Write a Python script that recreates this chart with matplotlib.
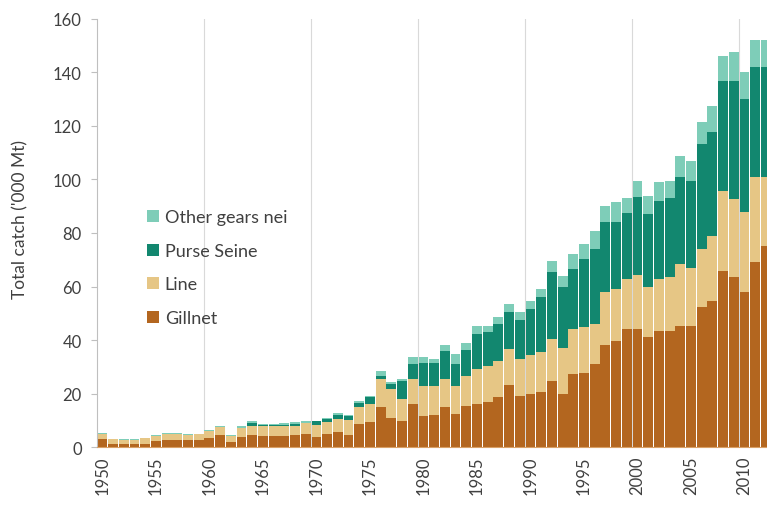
import numpy as np
import matplotlib
matplotlib.use("Agg")
from matplotlib import pyplot as plt

plt.rcParams['font.family'] = ['Lato', 'DejaVu Sans']

years = list(range(1950, 2013))

gillnet = [3.0, 1.1, 1.0, 1.0, 1.2, 2.4, 2.8, 2.8, 2.5, 2.5,
           3.5, 4.5, 2.0, 3.6, 4.5, 4.0, 4.0, 4.2, 4.4, 4.8,
           3.8, 4.8, 5.5, 4.6, 8.6, 9.2, 14.8, 11.0, 9.8, 16.0,
           11.7, 12.0, 14.8, 12.5, 15.5, 16.1, 16.7, 18.6, 23.2, 19.2,
           19.8, 20.4, 24.8, 19.8, 27.3, 27.6, 31.0, 38.0, 39.7, 44.3,
           44.3, 41.0, 43.5, 43.5, 45.3, 45.3, 52.2, 54.7, 65.9, 63.4,
           57.8, 69.0, 75.0]

line = [2.0, 1.8, 1.8, 1.8, 2.0, 1.8, 2.0, 2.2, 2.0, 2.2,
        2.5, 3.0, 2.2, 3.5, 3.4, 3.8, 3.8, 3.8, 3.6, 4.0,
        4.6, 4.6, 5.0, 5.5, 6.5, 6.8, 10.6, 10.7, 8.2, 9.4,
        11.2, 10.9, 10.6, 10.4, 11.2, 13.1, 13.7, 13.6, 13.4, 13.7,
        14.6, 15.0, 15.6, 17.1, 16.9, 17.4, 15.0, 19.8, 19.3, 18.5,
        20.0, 19.0, 19.3, 19.9, 23.1, 21.7, 21.8, 24.0, 29.9, 29.3,
        29.9, 31.8, 26.0]

purse_seine = [0, 0, 0, 0, 0, 0, 0, 0, 0, 0,
               0, 0, 0, 0, 1.2, 0.4, 0.3, 0.3, 0.5, 0.2,
               1.2, 1.0, 1.5, 1.4, 1.5, 2.8, 1.3, 2.0, 6.5, 5.6,
               8.6, 8.5, 10.6, 8.1, 9.7, 13.0, 12.6, 13.8, 13.7, 14.4,
               17.2, 20.5, 24.9, 22.8, 22.4, 25.4, 28.0, 26.2, 25.2, 24.7,
               29.3, 27.1, 29.2, 29.6, 32.4, 32.6, 39.3, 38.9, 41.2, 44.3,
               42.3, 41.1, 41.0]

other = [0.3, 0.2, 0.2, 0.2, 0.2, 0.3, 0.3, 0.3, 0.3, 0.3,
         0.4, 0.5, 0.2, 0.6, 0.5, 0.5, 0.4, 0.8, 1.0, 0.8,
         0.3, 0.6, 0.8, 0.5, 0.5, 0.4, 1.8, 0.5, 0.9, 2.5,
         2.0, 1.5, 2.0, 3.8, 2.5, 3.2, 2.4, 2.5, 3.2, 3.0,
         3.1, 3.1, 4.4, 4.3, 5.6, 5.5, 6.9, 6.2, 7.3, 5.5,
         6.0, 6.9, 7.0, 6.6, 7.9, 7.4, 8.1, 10.0, 9.3, 10.5,
         10.0, 10.1, 10.0]

series = [("Gillnet", gillnet, "#B3661F"),
          ("Line", line, "#E6C685"),
          ("Purse Seine", purse_seine, "#12876F"),
          ("Other gears nei", other, "#7ECDB8")]

fig = plt.figure(figsize=(7.67, 5.06), dpi=100)
ax = fig.add_axes([0.1265, 0.1146, 0.8735, 0.8459])

x = np.array(years)
bottom = np.zeros(len(years))
handles = []
for name, vals, color in series:
    h = ax.bar(x, vals, width=0.92, bottom=bottom, color=color, label=name,
               linewidth=0, zorder=2)
    handles.append(h)
    bottom += np.array(vals)

# category gridlines every 10 years
for gx in range(1960, 2020, 10):
    ax.axvline(gx - 0.5, color="#D9D9D9", linewidth=0.8, zorder=1)

ax.set_xlim(1949.5, 2012.1)
ax.set_ylim(0, 160)
ax.set_yticks(range(0, 161, 20))
ax.set_xticks(range(1950, 2011, 5))
ax.set_xticklabels([str(y) for y in range(1950, 2011, 5)], rotation=90)
ax.tick_params(axis='x', length=0, pad=6, labelsize=12, labelcolor="#404040")
ax.tick_params(axis='y', length=4, color="#BFBFBF", pad=7, labelsize=12,
               labelcolor="#404040")

for s in ["top", "right"]:
    ax.spines[s].set_visible(False)
ax.spines["left"].set_color("#BFBFBF")
ax.spines["bottom"].set_color("#D9A066")

ax.set_ylabel("Total catch ('000 Mt)", fontsize=12.5, color="#404040")
ax.yaxis.set_label_coords(-0.103, 0.533)

leg = ax.legend(handles[::-1], [s[0] for s in series][::-1], loc="upper left",
                bbox_to_anchor=(0.050, 0.593), frameon=False, fontsize=13,
                handlelength=0.65, handleheight=0.65, handletextpad=0.35,
                labelspacing=0.97)
for t in leg.get_texts():
    t.set_color("#404040")

plt.savefig("out.png", dpi=100)
